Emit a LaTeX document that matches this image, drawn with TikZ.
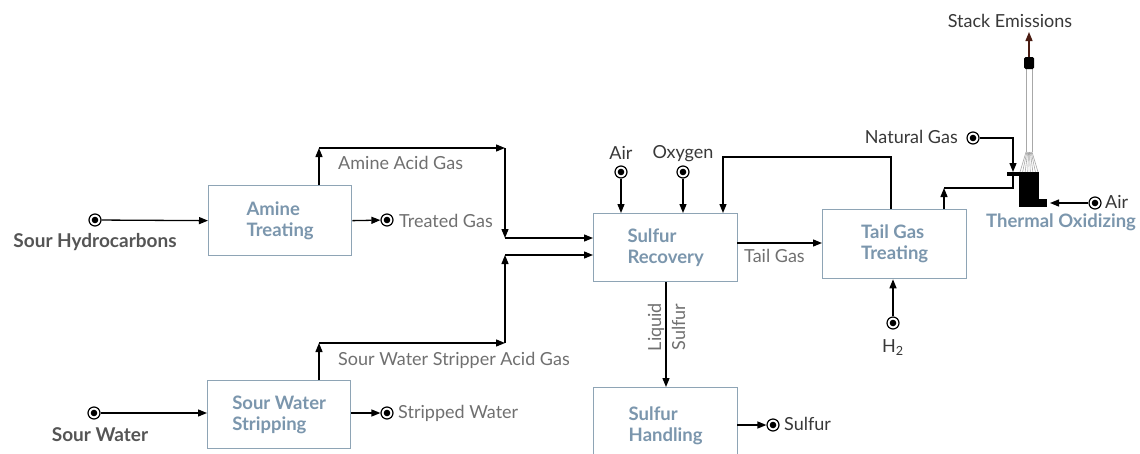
\documentclass[tikz,border=0pt]{standalone}
\usepackage{fontspec}
\setmainfont{Lato}
\usetikzlibrary{arrows.meta}
\definecolor{boxc}{HTML}{8EA4B5}
\definecolor{boxt}{HTML}{7B96AD}
\definecolor{labc}{HTML}{707070}
\definecolor{darkc}{HTML}{383838}
\definecolor{inc}{HTML}{555555}
\definecolor{brownc}{HTML}{4A1C12}
\definecolor{fanc}{HTML}{A8A8A8}
\begin{document}
\begin{tikzpicture}[x=1pt,y=-1pt,
  flow/.style={line width=1.3pt, -{Triangle[length=9pt,width=7pt]}},
  pipe/.style={line width=1.3pt},
  unit/.style={draw=boxc, line width=1.3pt, minimum width=143pt, minimum height=70pt, inner sep=0pt, anchor=north west, font=\bfseries\fontsize{18.5}{21}\selectfont, text=boxt, align=left},
  src/.style={circle, draw, line width=1.2pt, minimum size=12pt, inner sep=0pt, path picture={\fill (path picture bounding box.center) circle (3.3pt);}},
  lab/.style={font=\fontsize{18}{21}\selectfont, text=labc, inner sep=0pt},
  dlab/.style={font=\fontsize{18}{21}\selectfont, text=darkc, inner sep=0pt},
  inlab/.style={font=\bfseries\fontsize{19}{21}\selectfont, text=inc, inner sep=0pt},
]
\clip (0,0) rectangle (1140,453);
\fill[white] (0,0) rectangle (1140,453);

% units
\node[unit] (amine) at (208,185) {Amine\\Treating};
\node[unit, minimum height=68pt] (swstrip) at (207,380) {Sour Water\\Stripping};
\node[unit, minimum width=144pt, minimum height=68pt] (srec) at (593,213) {Sulfur\\Recovery};
\node[unit, minimum width=144pt, minimum height=69pt] (tgt) at (822,209) {Tail Gas\\Treating};
\node[unit, minimum width=144pt, minimum height=76pt] (shand) at (593,387) {Sulfur\\Handling};

% sour hydrocarbons
\node[src] (sh) at (95,220) {};
\node[inlab, anchor=base] (shl) at (95,247) {Sour Hydrocarbons};
\draw[flow] (sh) -- (amine.west);

% treated gas
\node[src] (tg) at (387,220) {};
\node[lab, anchor=base west] (tgl) at (399,227) {Treated Gas};
\draw[flow] (amine.east) -- (tg);

% amine acid gas
\coordinate (c1) at (319,148);
\coordinate (c2) at (505,148);
\coordinate (c3) at (505,238);
\draw[flow] (amine.north -| c1) -- (c1);
\draw[flow] (c1) -- (c2);
\draw[flow] (c2) -- (c3);
\draw[flow] (c3) -- (c3 -| srec.west);
\node[lab, anchor=base west] (aagl) at (338,169) {Amine Acid Gas};

% sour water
\node[src] (sw) at (94,413) {};
\node[inlab, anchor=base] (swl) at (100,441) {Sour Water};
\draw[flow] (sw) -- (sw -| swstrip.west);

% stripped water
\node[src] (stw) at (387,413) {};
\node[lab, anchor=base west] (stwl) at (398,418) {Stripped Water};
\draw[flow] (stw -| swstrip.east) -- (stw);

% sour water stripper acid gas
\coordinate (d1) at (319,343);
\coordinate (d2) at (505,343);
\coordinate (d3) at (505,255);
\draw[flow] (swstrip.north -| d1) -- (d1);
\draw[flow] (d1) -- (d2);
\draw[flow] (d2) -- (d3);
\draw[flow] (d3) -- (d3 -| srec.west);
\node[lab, anchor=base west] (swsl) at (338,365) {Sour Water Stripper Acid Gas};

% air and oxygen
\node[src] (air1) at (621,172) {};
\node[dlab, anchor=base] (air1l) at (621,159) {Air};
\draw[flow] (air1) -- (air1 |- srec.north);
\node[src] (oxy) at (683,172) {};
\node[dlab, anchor=base] (oxyl) at (683,158) {Oxygen};
\draw[flow] (oxy) -- (oxy |- srec.north);

% recycle
\coordinate (r1) at (891,157);
\coordinate (r2) at (723,157);
\draw[flow] (tgt.north -| r1) -- (r1) -- (r2) -- (r2 |- srec.north);

% tail gas
\coordinate (tg1) at (737,243);
\draw[flow] (tg1) -- (tg1 -| tgt.west);
\node[lab, anchor=base west] (tgasl) at (744,262) {Tail Gas};

% liquid sulfur
\coordinate (ls) at (666,300);
\draw[flow] (srec.south -| ls) -- (shand.north -| ls);
\node[lab] (lsl) at (669,327) {\rotatebox{90}{\begin{tabular}{@{}c@{}}Liquid\\[3pt]Sulfur\end{tabular}}};

% sulfur product
\coordinate (so) at (737,425);
\node[src] (sulf) at (773,425) {};
\draw[flow] (so) -- (sulf);
\node[dlab, anchor=base west] (sulfl) at (784,430) {Sulfur};

% H2
\node[src] (h2) at (893,323) {};
\draw[flow] (h2) -- (h2 |- tgt.south);
\node[dlab, anchor=base] (h2l) at (893,352) {H\textsubscript{2}};

% to thermal oxidizer
\coordinate (t1) at (944,188);
\coordinate (t2) at (1013,188);
\coordinate (bar) at (1013,175);
\draw[flow] (tgt.north -| t1) -- (t1);
\draw[pipe] (t1) -- (t2) -- (bar);

% natural gas
\node[src] (ng) at (973,138) {};
\node[dlab, anchor=base east] (ngl) at (958,143) {Natural Gas};
\coordinate (n1) at (1013,138);
\draw[flow] (ng) -- (n1) -- (1013,172);

% thermal oxidizer
\fill (1007,172) rectangle (1020,176);
\fill (1019,172) rectangle (1039,207);
\fill (1039,199) rectangle (1047,207);
\foreach \i in {0,...,7} {
  \draw[fanc, line width=0.6pt] (1020+\i*18/7,172) -- (1026+\i*6/7,152);
}
\draw[fanc, line width=0.9pt] (1026,152) -- (1026,68);
\draw[fanc, line width=0.9pt] (1032,152) -- (1032,68);
\fill[rounded corners=1.5pt] (1024,57) rectangle (1034,69);
\draw[line width=1.3pt, brownc, -{Triangle[length=9pt,width=7pt]}] (1029,57) -- (1029,32);
\node[dlab, anchor=base] (stackl) at (1010,27) {Stack Emissions};

% air to oxidizer
\node[src] (air2) at (1095,203) {};
\coordinate (a2) at (1050,203);
\draw[flow] (air2) -- (a2);
\node[dlab, anchor=base west] (air2l) at (1105,208) {Air};
\node[font=\bfseries\fontsize{18.5}{21}\selectfont, text=boxt, inner sep=0pt, anchor=base] (tol) at (1061,227) {Thermal Oxidizing};
\end{tikzpicture}
\end{document}
